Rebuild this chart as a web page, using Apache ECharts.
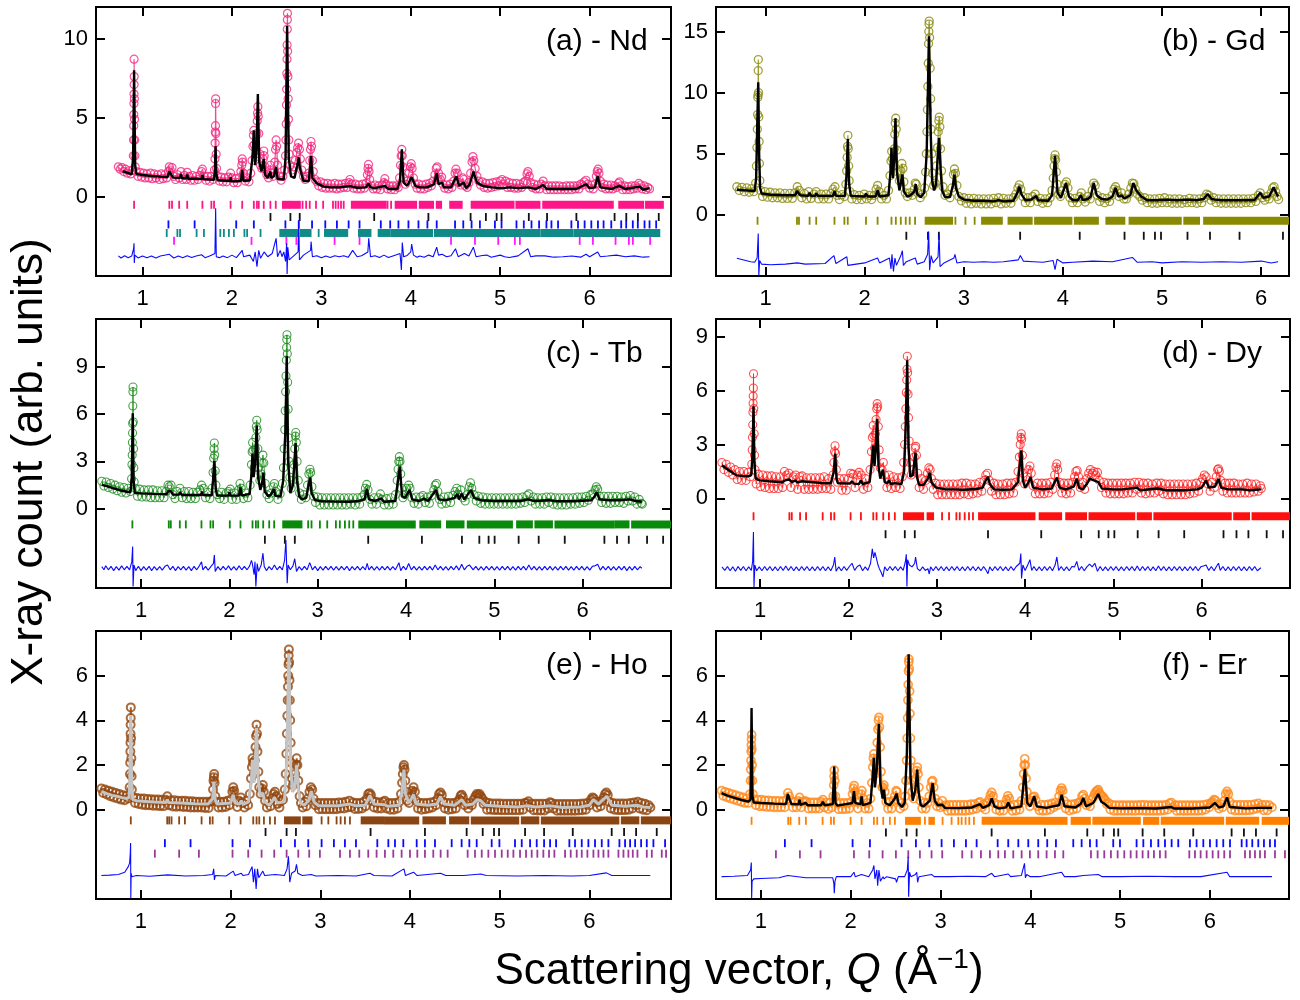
<!DOCTYPE html>
<html>
<head>
<meta charset="utf-8">
<script src="https://cdn.jsdelivr.net/npm/echarts@6/dist/echarts.min.js"></script>
<style>
html,body{margin:0;padding:0;background:#fff;}
#chart{width:1300px;height:1000px;}
</style>
</head>
<body>
<div id="chart"></div>
<script>
// ---------------- tick labels ----------------
const xTickValues = [1, 2, 3, 4, 5, 6];
const ndYTicks = [0, 5, 10];
const gdYTicks = [0, 5, 10, 15];
const tbYTicks = [0, 3, 6, 9];
const dyYTicks = [0, 3, 6, 9];
const hoYTicks = [0, 2, 4, 6];
const erYTicks = [0, 2, 4, 6];
const panelLabels = ['(a) - Nd', '(b) - Gd', '(c) - Tb', '(d) - Dy', '(e) - Ho', '(f) - Er'];

// ---------------- (a) Nd ----------------
const ndObs = [[0.73,1.9],[0.75,1.75],[0.77,1.85],[0.79,1.6],[0.81,1.75],[0.83,1.5],[0.85,1.65],[0.87,1.45],[0.89,1.7],
[0.897,2.6],[0.900,3.6],[0.902,4.5],[0.903,5.2],[0.904,5.9],[0.905,6.5],[0.906,7.1],[0.907,7.6],[0.906,8.7],[0.909,6.2],[0.911,4.9],[0.913,3.6],[0.915,2.6],[0.918,1.9],
[0.93,1.6],[0.95,1.3],[0.97,1.55],[0.99,1.25],[1.01,1.5],[1.03,1.2],[1.05,1.45],[1.07,1.2],[1.09,1.5],[1.11,1.15],[1.13,1.45],[1.15,1.2],[1.17,1.4],[1.19,1.1],[1.21,1.45],[1.23,1.15],[1.25,1.4],[1.27,1.2],[1.29,1.6],[1.30,1.9],[1.31,1.7],[1.33,1.85],[1.35,1.3],[1.37,1.1],[1.39,1.4],[1.41,1.2],[1.43,1.6],[1.45,1.1],[1.47,1.35],[1.49,1.1],[1.50,1.55],[1.52,1.3],[1.54,1.05],[1.56,1.35],[1.58,1.05],[1.60,1.3],[1.62,1.1],[1.64,1.35],[1.66,1.6],[1.67,1.75],[1.69,1.3],[1.71,1.05],[1.73,1.3],[1.75,1.0],[1.77,1.3],[1.79,1.1],
[1.805,1.7],[1.81,2.4],[1.812,3.4],[1.814,4.1],[1.816,4.5],[1.817,5.9],[1.818,6.2],[1.821,4.0],[1.824,2.7],[1.828,1.8],[1.84,1.3],[1.86,1.0],[1.88,1.25],[1.90,0.95],[1.92,1.2],[1.94,0.95],[1.96,1.25],[1.985,1.5],[2.00,1.2],[2.02,0.9],[2.04,1.15],[2.06,0.9],[2.08,1.2],[2.10,1.6],[2.11,2.0],[2.115,2.4],[2.12,2.2],[2.13,1.5],[2.15,1.0],[2.17,1.2],[2.19,0.95],
[2.21,1.5],[2.225,2.3],[2.235,3.2],[2.24,3.9],[2.245,4.2],[2.25,3.3],[2.26,2.5],[2.27,3.0],[2.278,4.0],[2.283,4.8],[2.287,5.3],[2.29,5.7],[2.294,5.1],[2.30,4.0],[2.31,2.7],[2.32,2.0],[2.335,1.8],[2.35,2.4],[2.356,2.9],[2.36,2.6],[2.37,1.9],[2.39,1.4],[2.41,1.2],[2.425,1.7],[2.43,2.0],[2.44,1.5],[2.46,1.3],[2.48,2.2],[2.488,3.0],[2.494,3.6],[2.50,3.2],[2.51,2.0],[2.53,1.3],[2.55,1.05],[2.57,1.3],[2.59,1.7],
[2.600,2.6],[2.604,3.6],[2.607,4.6],[2.61,5.8],[2.612,6.8],[2.614,7.8],[2.616,8.7],[2.617,9.6],[2.619,10.6],[2.62,11.2],[2.621,11.6],[2.623,9.2],[2.626,7.6],[2.629,6.2],[2.632,4.9],[2.636,3.6],[2.64,2.7],[2.65,2.0],[2.67,1.7],[2.69,1.9],[2.71,2.3],[2.725,2.8],[2.735,3.1],[2.745,3.4],[2.755,3.0],[2.765,2.4],[2.78,1.7],[2.80,1.3],[2.82,1.1],[2.84,1.3],[2.86,1.5],[2.87,2.3],[2.878,3.0],[2.884,3.5],[2.89,3.2],[2.90,2.3],[2.91,1.6],[2.93,1.1],[2.95,0.95],
[2.97,0.7],[2.99,0.95],[3.01,0.6],[3.03,0.85],[3.05,0.55],[3.07,0.85],[3.09,0.55],[3.11,0.8],[3.13,0.55],[3.15,0.85],[3.17,0.5],[3.19,0.8],[3.21,0.55],[3.23,0.8],[3.25,0.6],[3.27,0.85],[3.29,0.6],[3.31,0.9],[3.32,1.1],[3.34,0.8],[3.36,0.55],[3.38,0.8],[3.40,0.5],[3.42,0.75],[3.44,0.5],[3.46,0.8],[3.48,0.55],[3.50,0.85],[3.515,1.4],[3.522,1.8],[3.527,2.05],[3.533,1.6],[3.54,1.1],[3.56,0.7],[3.58,0.5],[3.60,0.75],[3.62,0.5],[3.64,0.7],[3.66,0.45],[3.68,0.75],[3.70,0.9],[3.71,1.15],[3.72,0.8],[3.74,0.5],[3.76,0.7],[3.78,0.45],[3.80,0.7],[3.82,0.45],[3.84,0.7],[3.86,0.6],
[3.875,1.2],[3.885,2.0],[3.893,2.6],[3.9,3.0],[3.905,2.6],[3.91,1.9],[3.92,1.2],[3.94,0.8],[3.96,1.0],[3.98,1.5],[3.995,1.9],[4.005,2.1],[4.015,1.8],[4.03,1.2],[4.05,0.8],[4.07,0.55],[4.09,0.8],[4.11,0.5],[4.13,0.75],[4.15,0.5],[4.17,0.8],[4.19,0.6],[4.21,0.85],[4.23,0.7],[4.25,1.0],[4.27,1.4],[4.285,1.8],[4.295,1.9],[4.31,1.5],[4.33,1.1],[4.345,1.25],[4.36,0.8],[4.38,0.55],[4.40,0.75],[4.42,0.5],[4.44,0.8],[4.46,0.6],[4.48,1.0],[4.495,1.5],[4.505,1.75],[4.52,1.5],[4.54,0.9],[4.56,0.75],[4.58,1.2],[4.595,1.1],[4.61,0.7],[4.63,0.6],[4.65,0.9],[4.67,1.5],[4.685,2.2],[4.695,2.55],[4.705,2.3],[4.72,1.8],[4.74,1.3],[4.76,1.0],[4.78,0.75],
[4.80,0.95],[4.82,0.6],[4.84,0.85],[4.86,0.55],[4.88,0.85],[4.90,0.6],[4.92,0.9],[4.94,0.65],[4.96,0.95],[4.98,0.7],[5.00,1.0],[5.02,1.1],[5.04,0.8],[5.06,1.0],[5.08,0.6],[5.10,0.9],[5.12,0.6],[5.14,0.85],[5.16,0.55],[5.18,0.85],[5.20,0.55],[5.22,0.8],[5.24,0.6],[5.26,0.9],[5.28,1.0],[5.30,1.45],[5.31,1.6],[5.325,1.3],[5.34,0.9],[5.36,0.6],[5.38,0.8],[5.40,0.5],[5.42,0.75],[5.44,0.5],[5.46,0.8],[5.48,1.0],[5.50,0.7],[5.52,0.45],[5.54,0.7],[5.56,0.45],[5.58,0.7],[5.60,0.45],[5.62,0.7],[5.64,0.45],[5.66,0.7],[5.68,0.45],[5.70,0.65],[5.72,0.45],[5.74,0.7],[5.76,0.45],[5.78,0.7],[5.80,0.45],[5.82,0.7],[5.84,0.5],[5.86,0.7],[5.88,0.5],[5.90,0.8],[5.92,0.75],[5.94,0.95],[5.96,1.05],[5.98,0.8],
[6.00,0.55],[6.02,0.75],[6.04,0.5],[6.06,0.8],[6.075,1.3],[6.085,1.6],[6.095,1.75],[6.105,1.5],[6.12,1.0],[6.14,0.6],[6.16,0.8],[6.18,0.5],[6.20,0.75],[6.22,0.5],[6.24,0.75],[6.26,0.5],[6.28,0.7],[6.30,0.6],[6.32,0.85],[6.335,0.95],[6.35,0.7],[6.37,0.45],[6.39,0.7],[6.41,0.45],[6.43,0.65],[6.45,0.45],[6.47,0.7],[6.49,0.5],[6.51,0.7],[6.53,0.55],[6.55,0.85],[6.57,0.75],[6.59,0.5],[6.61,0.7],[6.63,0.45],[6.65,0.6],[6.67,0.5]];
const ndCalc = [[0.78,1.62],[0.84,1.5],[0.88,1.42],[0.895,2.5],[0.906,8.0],[0.918,2.0],[0.93,1.45],[1.0,1.38],[1.1,1.32],[1.2,1.28],[1.28,1.25],[1.30,1.62],[1.32,1.6],[1.34,1.22],[1.42,1.2],[1.43,1.45],[1.44,1.18],[1.49,1.18],[1.50,1.42],[1.51,1.15],[1.6,1.15],[1.66,1.12],[1.67,1.4],[1.68,1.12],[1.8,1.08],[1.81,1.6],[1.817,3.2],[1.825,1.5],[1.84,1.05],[1.98,1.0],[1.985,1.25],[1.99,0.98],[2.1,1.0],[2.115,1.7],[2.13,1.0],[2.2,1.05],[2.23,2.5],[2.245,4.2],[2.26,2.0],[2.275,3.0],[2.29,6.5],[2.305,2.2],[2.33,1.6],[2.356,2.4],[2.37,1.4],[2.40,1.2],[2.43,1.6],[2.44,1.2],[2.47,1.3],[2.494,1.9],[2.51,1.15],[2.58,1.1],[2.60,2.5],[2.617,10.8],[2.635,2.5],[2.66,1.3],[2.70,1.2],[2.73,2.0],[2.747,2.5],[2.76,1.8],[2.80,1.0],[2.86,1.0],[2.885,2.6],[2.90,1.2],[2.95,0.85],[3.025,0.65],[3.1,0.6],[3.2,0.6],[3.32,0.68],[3.4,0.58],[3.5,0.6],[3.527,0.85],[3.55,0.6],[3.6,0.55],[3.71,0.7],[3.75,0.5],[3.85,0.5],[3.88,1.0],[3.90,3.0],[3.92,0.9],[3.96,0.7],[4.01,1.25],[4.05,0.7],[4.1,0.6],[4.18,0.6],[4.22,0.7],[4.26,0.8],[4.29,1.5],[4.31,0.8],[4.35,0.9],[4.37,0.6],[4.45,0.6],[4.51,1.3],[4.54,0.7],[4.59,0.9],[4.62,0.55],[4.66,0.8],[4.70,1.6],[4.74,0.9],[4.8,0.7],[4.9,0.6],[5.03,0.55],[5.1,0.6],[5.2,0.55],[5.31,0.6],[5.4,0.5],[5.48,0.75],[5.52,0.5],[5.7,0.5],[5.85,0.5],[5.96,0.8],[6.0,0.55],[6.06,0.6],[6.09,1.3],[6.12,0.6],[6.25,0.5],[6.33,0.7],[6.4,0.5],[6.56,0.65],[6.6,0.45],[6.67,0.55]];
const ndDiff = [[0.73,0.05],[0.76,-0.08],[0.8,0.06],[0.84,-0.06],[0.88,0.05],[0.9,0.5],[0.905,0.85],[0.908,-0.4],[0.915,0.1],[0.95,-0.08],[1.0,0.05],[1.05,-0.06],[1.1,0.05],[1.15,-0.08],[1.2,0.04],[1.3,0.15],[1.35,-0.08],[1.4,0.05],[1.45,-0.06],[1.5,0.06],[1.55,-0.05],[1.6,0.04],[1.66,0.12],[1.7,-0.06],[1.75,0.04],[1.81,0.2],[1.818,3.06],[1.825,0.0],[1.86,-0.06],[1.9,0.05],[1.95,-0.06],[2.0,0.1],[2.05,-0.06],[2.115,0.4],[2.13,0.0],[2.2,0.1],[2.24,-0.3],[2.26,0.3],[2.28,-0.63],[2.30,0.4],[2.32,-0.1],[2.36,0.3],[2.40,0.0],[2.45,0.2],[2.494,1.16],[2.51,0.0],[2.54,0.4],[2.56,0.0],[2.58,0.3],[2.6,-0.3],[2.612,0.85],[2.617,-1.1],[2.625,0.6],[2.64,-0.2],[2.7,0.1],[2.74,0.3],[2.747,2.3],[2.755,-0.2],[2.8,0.1],[2.88,0.4],[2.885,0.95],[2.9,0.0],[2.95,0.06],[3.0,-0.06],[3.05,0.05],[3.1,-0.05],[3.15,0.06],[3.2,0.0],[3.25,0.06],[3.3,-0.04],[3.35,0.4],[3.4,0.0],[3.45,0.06],[3.52,0.3],[3.53,1.16],[3.55,0.0],[3.6,0.06],[3.65,-0.05],[3.7,0.1],[3.75,-0.05],[3.8,0.05],[3.88,0.2],[3.895,-0.84],[3.905,0.9],[3.92,0.0],[3.96,0.08],[4.0,0.3],[4.01,0.8],[4.03,0.1],[4.07,-0.04],[4.1,0.05],[4.15,-0.04],[4.2,0.1],[4.25,0.0],[4.29,0.6],[4.31,0.1],[4.35,0.15],[4.4,0.0],[4.45,0.06],[4.5,0.5],[4.53,0.0],[4.6,0.2],[4.65,0.05],[4.7,0.6],[4.73,0.0],[4.8,0.08],[4.85,0.1],[4.9,-0.03],[5.0,0.1],[5.05,0.0],[5.1,-0.05],[5.2,0.05],[5.31,0.5],[5.34,0.0],[5.4,0.05],[5.5,0.05],[5.6,-0.03],[5.7,0.0],[5.8,0.04],[5.9,-0.03],[5.96,0.15],[6.0,0.0],[6.09,0.3],[6.12,0.0],[6.2,0.04],[6.3,0.1],[6.4,0.0],[6.5,0.05],[6.6,-0.03],[6.67,0.0]];
const ndPinkTicks = [0.906,1.30,1.33,1.41,1.50,1.67,1.77,1.80,1.985,2.115,2.245,2.28,2.30,2.356,2.43,2.49,2.79,2.83,2.87,2.94,3.02,3.13,3.16,3.19,3.22,3.25,3.74,3.78];
const ndPinkBands = [[2.57,2.64],[2.65,2.76],[3.34,3.72],[3.83,4.06],[4.10,4.25],[4.29,4.34],[4.44,4.57],[4.68,5.15],[5.18,5.44],[5.48,6.26],[6.33,6.6],[6.63,6.82]];
const ndBlackTicks = [2.431,2.654,2.758,3.591,4.197,4.669,4.84,4.96,5.015,5.32,5.524,5.852,6.279,6.41,6.54,6.773];
const ndBlueTicks = [1.29,1.583,2.048,2.245,2.598,2.747,2.896,3.044,3.174,3.305,3.427,3.665,3.77,3.862,3.974,4.086,4.186,4.29,4.495,4.587,4.68,4.773,4.941,5.015,5.182,5.264,5.35,5.435,5.517,5.573,5.647,5.796,5.87,5.944,6.019,6.093,6.156,6.242,6.353,6.409,6.483,6.539,6.614,6.67,6.744];
const ndTealTicks = [1.271,1.39,1.42,1.605,1.687,1.87,1.91,1.966,2.022,2.14,2.17,2.32,2.97];
const ndTealBands = [[2.54,2.73],[2.77,2.88],[3.04,3.29],[3.42,3.55],[3.64,3.76],[3.78,4.24],[4.27,4.44],[4.46,4.54],[4.56,5.44],[5.46,5.81],[5.83,6.78]];
const ndMagentaTicks = [1.353,2.219,2.609,2.721,3.148,3.427,4.45,4.718,4.978,5.164,5.22,5.889,6.037,6.29,6.439,6.484,6.677];

// ---------------- (b) Gd ----------------
const gdObs = [[0.71,2.3],[0.735,2.0],[0.76,2.25],[0.785,1.9],[0.81,2.2],[0.835,1.85],[0.86,2.15],[0.88,1.9],[0.90,2.6],[0.908,4.0],[0.913,5.5],[0.917,7.0],[0.92,8.2],[0.922,9.6],[0.924,9.8],[0.926,11.8],[0.927,12.7],[0.929,10.0],[0.932,8.0],[0.935,6.0],[0.938,4.2],[0.942,2.8],[0.95,2.0],[0.97,1.5],[0.995,1.9],[1.02,1.45],[1.045,1.85],[1.07,1.4],[1.095,1.8],[1.12,1.4],[1.145,1.8],[1.17,1.35],[1.195,1.75],[1.22,1.35],[1.245,1.75],[1.27,1.35],[1.295,1.8],[1.32,2.3],[1.34,2.0],[1.365,1.4],[1.39,1.75],[1.415,1.3],[1.435,1.9],[1.46,1.35],[1.49,1.7],[1.51,1.9],[1.535,1.3],[1.56,1.7],[1.585,1.3],[1.61,1.7],[1.635,1.3],[1.66,1.75],[1.68,2.1],[1.70,2.3],[1.72,1.6],[1.745,1.25],[1.77,1.65],[1.795,1.5],
[1.81,2.5],[1.818,3.6],[1.823,4.7],[1.827,5.6],[1.83,6.5],[1.834,5.4],[1.838,4.0],[1.843,2.8],[1.85,1.9],[1.87,1.3],[1.895,1.65],[1.92,1.25],[1.945,1.6],[1.97,1.25],[1.995,1.7],[2.02,1.3],[2.045,1.6],[2.07,1.25],[2.095,1.6],[2.115,2.1],[2.13,2.4],[2.145,1.9],[2.17,1.3],[2.195,1.6],[2.22,1.3],[2.24,2.0],[2.255,3.2],[2.265,4.4],[2.272,5.2],[2.28,4.6],[2.29,4.0],[2.298,5.4],[2.303,6.6],[2.308,7.5],[2.313,7.9],[2.318,7.0],[2.325,5.3],[2.335,3.5],[2.35,2.8],[2.365,3.6],[2.375,4.2],[2.385,3.8],[2.395,2.7],[2.41,1.8],[2.43,1.5],[2.455,1.8],[2.48,1.6],[2.5,2.1],[2.51,2.6],[2.52,2.5],[2.535,1.8],[2.56,1.4],[2.585,1.7],
[2.605,2.2],[2.615,3.5],[2.622,5.0],[2.628,6.8],[2.633,8.6],[2.637,10.5],[2.641,12.4],[2.644,14.0],[2.647,15.0],[2.649,15.6],[2.651,15.85],[2.655,14.5],[2.66,12.0],[2.665,9.5],[2.67,7.0],[2.676,5.0],[2.683,3.4],[2.695,2.4],[2.71,2.6],[2.725,4.0],[2.735,5.5],[2.742,6.8],[2.748,7.7],[2.752,8.0],[2.758,7.2],[2.765,5.4],[2.775,3.6],[2.79,2.3],[2.81,1.6],[2.835,1.7],[2.86,1.4],[2.88,2.2],[2.895,3.3],[2.905,3.75],[2.915,3.4],[2.93,2.4],[2.95,1.5],[2.975,1.15],
[3.0,1.4],[3.025,0.95],[3.05,1.35],[3.075,0.9],[3.10,1.35],[3.125,0.95],[3.15,1.3],[3.175,0.9],[3.20,1.3],[3.225,0.9],[3.25,1.3],[3.275,0.9],[3.30,1.35],[3.325,1.0],[3.35,1.4],[3.375,0.9],[3.40,1.35],[3.425,0.95],[3.45,1.3],[3.475,0.95],[3.50,1.4],[3.525,1.7],[3.545,2.2],[3.56,2.45],[3.575,2.1],[3.595,1.5],[3.62,1.0],[3.645,1.4],[3.67,1.0],[3.695,1.5],[3.72,1.7],[3.745,1.1],[3.77,1.35],[3.795,0.95],[3.82,1.3],[3.845,1.0],[3.87,1.4],[3.89,2.0],[3.902,3.0],[3.91,4.0],[3.915,4.6],[3.92,4.9],[3.926,4.5],[3.933,3.5],[3.942,2.5],[3.955,1.7],[3.975,1.5],
[4.0,2.0],[4.02,2.5],[4.035,2.7],[4.05,2.2],[4.07,1.4],[4.095,1.0],[4.12,1.35],[4.145,1.0],[4.17,1.5],[4.185,1.8],[4.2,1.3],[4.225,1.05],[4.25,1.5],[4.275,1.3],[4.295,2.0],[4.31,2.6],[4.325,2.4],[4.345,1.6],[4.37,1.1],[4.395,1.4],[4.42,1.0],[4.445,1.35],[4.47,1.1],[4.495,1.6],[4.515,2.1],[4.53,2.3],[4.545,2.0],[4.565,1.5],[4.59,1.8],[4.615,1.3],[4.64,1.3],[4.665,1.7],[4.685,2.2],[4.70,2.6],[4.715,2.55],[4.73,2.1],[4.75,1.7],[4.775,1.5],[4.80,1.2],[4.825,1.4],[4.85,1.0],[4.875,1.3],[4.90,0.95],[4.925,1.3],[4.95,0.95],[4.975,1.35],
[5.0,1.0],[5.025,1.4],[5.05,1.0],[5.075,1.3],[5.10,0.95],[5.125,1.3],[5.15,0.95],[5.175,1.3],[5.20,0.95],[5.225,1.25],[5.25,1.0],[5.275,1.35],[5.30,1.0],[5.325,1.3],[5.35,0.95],[5.375,1.3],[5.40,1.0],[5.425,1.4],[5.45,1.7],[5.47,1.6],[5.495,1.2],[5.52,1.4],[5.545,1.0],[5.57,1.3],[5.595,0.95],[5.62,1.3],[5.645,0.95],[5.67,1.3],[5.695,0.95],[5.72,1.3],[5.745,0.95],[5.77,1.3],[5.795,0.95],[5.82,1.3],[5.845,1.0],[5.87,1.3],[5.895,1.0],[5.92,1.35],[5.945,1.1],[5.97,1.6],[5.99,1.8],[6.01,1.4],[6.035,1.2],[6.06,1.5],[6.08,1.3],[6.10,1.8],[6.115,2.2],[6.13,2.3],[6.145,1.9],[6.16,1.5],[6.175,1.25]];
const gdCalc = [[0.71,2.05],[0.8,2.0],[0.89,1.95],[0.905,3.0],[0.915,7.0],[0.926,10.85],[0.935,5.0],[0.945,2.2],[0.96,1.75],[1.05,1.65],[1.2,1.6],[1.3,1.6],[1.317,1.95],[1.337,1.9],[1.35,1.6],[1.43,1.55],[1.444,1.8],[1.46,1.55],[1.5,1.55],[1.511,1.75],[1.53,1.55],[1.68,1.55],[1.695,1.95],[1.71,1.55],[1.80,1.55],[1.815,3.0],[1.83,6.2],[1.843,2.5],[1.86,1.55],[2.0,1.5],[2.013,1.75],[2.03,1.5],[2.11,1.5],[2.13,2.0],[2.15,1.5],[2.24,1.6],[2.26,3.5],[2.27,5.47],[2.285,3.0],[2.297,4.5],[2.31,7.9],[2.325,3.5],[2.35,2.0],[2.365,2.6],[2.38,3.3],[2.395,1.9],[2.43,1.5],[2.46,1.6],[2.50,1.9],[2.515,2.5],[2.53,1.7],[2.565,1.45],[2.60,1.8],[2.625,5.0],[2.648,14.6],[2.665,7.0],[2.68,2.8],[2.70,2.0],[2.72,2.5],[2.735,4.5],[2.75,6.3],[2.765,3.8],[2.78,2.0],[2.81,1.45],[2.86,1.45],[2.89,2.4],[2.906,3.3],[2.92,2.2],[2.95,1.5],[3.0,1.25],[3.1,1.15],[3.2,1.15],[3.3,1.1],[3.35,1.2],[3.4,1.1],[3.5,1.15],[3.54,1.8],[3.56,2.3],[3.58,1.7],[3.62,1.2],[3.68,1.25],[3.73,1.55],[3.75,1.2],[3.85,1.15],[3.89,1.6],[3.92,4.83],[3.945,1.8],[3.98,1.4],[4.03,2.6],[4.06,1.5],[4.1,1.2],[4.15,1.2],[4.18,1.6],[4.2,1.2],[4.25,1.3],[4.28,1.5],[4.31,2.6],[4.34,1.6],[4.39,1.3],[4.45,1.25],[4.5,1.5],[4.53,2.2],[4.56,1.5],[4.59,1.6],[4.62,1.35],[4.68,1.6],[4.71,2.6],[4.74,2.0],[4.79,1.5],[4.85,1.2],[4.95,1.2],[5.05,1.25],[5.15,1.2],[5.25,1.25],[5.35,1.2],[5.42,1.3],[5.46,1.7],[5.5,1.3],[5.53,1.25],[5.6,1.2],[5.75,1.2],[5.93,1.2],[5.99,1.8],[6.02,1.4],[6.08,1.5],[6.125,2.25],[6.15,1.8],[6.17,1.5]];
const gdDiff = [[0.71,0.28],[0.75,0.2],[0.8,0.1],[0.85,0.0],[0.89,-0.05],[0.915,0.3],[0.926,2.3],[0.932,-1.15],[0.94,0.1],[0.96,-0.2],[1.05,-0.25],[1.2,-0.2],[1.32,-0.1],[1.4,-0.2],[1.6,-0.15],[1.69,0.5],[1.71,-0.15],[1.82,0.4],[1.83,-0.3],[1.84,-0.15],[2.0,-0.1],[2.13,0.3],[2.15,-0.1],[2.25,0.3],[2.265,-0.6],[2.275,0.6],[2.29,-0.8],[2.305,0.3],[2.32,-0.3],[2.365,0.5],[2.38,0.9],[2.39,-0.3],[2.42,0.0],[2.51,0.3],[2.53,-0.2],[2.6,0.0],[2.635,0.6],[2.645,2.46],[2.655,-0.7],[2.67,0.5],[2.69,-0.1],[2.74,0.4],[2.75,2.3],[2.76,-0.4],[2.8,-0.1],[2.9,0.3],[2.91,0.6],[2.93,-0.1],[3.0,0.0],[3.1,-0.05],[3.2,0.0],[3.3,-0.05],[3.4,0.0],[3.55,0.15],[3.57,0.5],[3.6,0.05],[3.7,0.0],[3.8,-0.05],[3.9,0.1],[3.92,-0.65],[3.94,0.2],[4.0,-0.1],[4.1,-0.05],[4.3,0.05],[4.5,0.0],[4.7,0.35],[4.75,-0.05],[4.9,0.0],[5.0,-0.1],[5.2,0.0],[5.4,-0.05],[5.6,0.0],[5.8,-0.05],[6.0,0.05],[6.1,-0.1],[6.17,0.0]];
const gdOliveTicks = [0.919,1.317,1.337,1.444,1.511,1.695,1.795,1.829,2.013,2.13,2.27,2.314,2.364,2.414,2.454,2.508,2.915,3.016,3.109];
const gdOliveBands = [[2.614,2.882],[3.183,3.384],[3.45,3.685],[3.718,4.086],[4.119,4.353],[4.437,4.62],[4.671,5.189],[5.223,5.373],[5.423,6.28]];
const gdBlackTicks = [2.42,2.638,2.748,3.568,4.169,4.621,4.815,4.928,4.989,5.256,5.483,5.781,6.219];

// ---------------- (c) Tb ----------------
const tbObs = [[0.555,1.75],[0.58,1.45],[0.605,1.7],[0.63,1.35],[0.655,1.6],[0.68,1.25],[0.705,1.5],[0.73,1.15],[0.755,1.4],[0.78,1.05],[0.805,1.35],[0.83,1.0],[0.855,1.3],[0.88,1.1],[0.893,1.9],[0.897,2.8],[0.9,3.4],[0.902,4.2],[0.904,4.8],[0.905,5.4],[0.907,6.5],[0.908,7.4],[0.909,7.7],[0.912,5.5],[0.915,3.8],[0.918,2.6],[0.922,1.7],[0.935,1.3],[0.96,0.8],[0.985,1.25],[1.01,0.75],[1.035,1.2],[1.06,0.75],[1.085,1.2],[1.11,0.7],[1.135,1.2],[1.16,0.7],[1.185,1.15],[1.21,0.7],[1.235,1.15],[1.26,0.7],[1.285,1.1],[1.305,1.5],[1.32,1.4],[1.34,1.5],[1.36,0.9],[1.385,0.65],[1.41,1.1],[1.44,1.3],[1.465,0.7],[1.49,1.1],[1.515,0.65],[1.54,1.1],[1.565,0.65],[1.59,1.05],[1.615,0.65],[1.64,1.05],[1.665,1.2],[1.685,1.5],[1.705,1.3],[1.73,0.7],[1.755,1.05],[1.78,0.65],
[1.805,1.3],[1.815,2.3],[1.822,3.2],[1.827,3.8],[1.83,4.16],[1.834,3.4],[1.84,2.4],[1.848,1.5],[1.865,0.9],[1.89,0.65],[1.915,1.05],[1.94,0.6],[1.965,1.0],[1.99,1.1],[2.01,1.25],[2.03,0.6],[2.055,1.0],[2.08,0.6],[2.105,1.2],[2.12,1.6],[2.135,1.3],[2.16,0.65],[2.185,1.0],[2.21,0.7],[2.235,1.5],[2.25,2.8],[2.258,3.6],[2.263,4.2],[2.268,3.7],[2.28,2.6],[2.293,3.8],[2.3,4.5],[2.305,5.2],[2.31,5.6],[2.315,5.0],[2.322,3.8],[2.33,2.6],[2.345,1.8],[2.36,2.2],[2.372,2.9],[2.38,3.4],[2.39,2.9],[2.405,1.6],[2.425,0.9],[2.45,0.65],[2.475,1.0],[2.5,1.4],[2.51,1.6],[2.525,1.1],[2.55,0.6],[2.575,0.95],
[2.6,1.6],[2.612,2.6],[2.62,3.8],[2.627,5.0],[2.632,6.2],[2.637,7.4],[2.641,8.4],[2.645,9.4],[2.648,10.2],[2.65,10.7],[2.652,11.0],[2.656,9.8],[2.66,8.0],[2.665,6.3],[2.67,4.5],[2.677,3.0],[2.685,2.0],[2.7,1.3],[2.715,1.8],[2.73,2.8],[2.74,3.8],[2.748,4.6],[2.752,4.83],[2.758,4.2],[2.767,3.0],[2.78,1.8],[2.795,1.0],[2.815,0.6],[2.84,0.9],[2.865,0.7],[2.885,1.5],[2.9,2.2],[2.912,2.5],[2.92,2.3],[2.935,1.4],[2.955,0.8],[2.975,0.4],
[3.0,0.75],[3.025,0.25],[3.05,0.7],[3.075,0.25],[3.1,0.7],[3.125,0.25],[3.15,0.7],[3.175,0.25],[3.2,0.7],[3.225,0.25],[3.25,0.7],[3.275,0.25],[3.3,0.7],[3.325,0.25],[3.35,0.7],[3.375,0.3],[3.4,0.7],[3.425,0.25],[3.45,0.7],[3.475,0.3],[3.5,0.75],[3.525,0.9],[3.54,1.3],[3.555,1.55],[3.57,1.2],[3.59,0.6],[3.615,0.3],[3.64,0.7],[3.665,0.3],[3.69,0.7],[3.71,0.95],[3.73,0.6],[3.755,0.25],[3.78,0.65],[3.805,0.25],[3.83,0.7],[3.855,0.3],[3.88,0.9],[3.9,1.8],[3.91,2.5],[3.918,3.0],[3.925,3.3],[3.932,3.0],[3.94,2.2],[3.95,1.3],[3.965,0.7],[3.985,0.9],
[4.01,1.3],[4.03,1.5],[4.045,1.3],[4.065,0.7],[4.09,0.35],[4.115,0.75],[4.14,0.3],[4.165,0.75],[4.19,0.85],[4.215,0.4],[4.24,0.75],[4.265,0.35],[4.29,0.85],[4.315,1.2],[4.33,1.5],[4.345,1.6],[4.36,1.1],[4.38,0.6],[4.405,0.3],[4.43,0.75],[4.455,0.35],[4.48,0.8],[4.505,0.4],[4.53,0.85],[4.555,1.1],[4.575,1.3],[4.595,0.9],[4.62,1.2],[4.645,0.7],[4.67,0.5],[4.695,0.9],[4.715,1.4],[4.73,1.65],[4.745,1.3],[4.77,0.9],[4.795,0.5],[4.82,0.8],[4.845,0.35],[4.87,0.75],[4.895,0.3],[4.92,0.7],[4.945,0.3],[4.97,0.7],[4.995,0.3],
[5.02,0.7],[5.045,0.3],[5.07,0.7],[5.095,0.3],[5.12,0.7],[5.145,0.3],[5.17,0.7],[5.195,0.3],[5.22,0.7],[5.245,0.3],[5.27,0.7],[5.295,0.35],[5.32,0.75],[5.345,0.4],[5.37,0.85],[5.39,0.95],[5.415,0.5],[5.44,0.75],[5.465,0.3],[5.49,0.7],[5.515,0.3],[5.54,0.7],[5.565,0.3],[5.59,0.75],[5.615,0.4],[5.64,0.75],[5.665,0.3],[5.69,0.7],[5.715,0.25],[5.74,0.7],[5.765,0.25],[5.79,0.7],[5.815,0.25],[5.84,0.7],[5.865,0.3],[5.89,0.7],[5.915,0.3],[5.94,0.75],[5.965,0.35],[5.99,0.75],
[6.015,0.4],[6.04,0.8],[6.065,0.55],[6.09,0.9],[6.115,0.95],[6.14,1.2],[6.155,1.4],[6.17,1.25],[6.19,0.8],[6.215,0.4],[6.24,0.8],[6.265,0.35],[6.29,0.8],[6.315,0.35],[6.34,0.8],[6.365,0.4],[6.39,0.8],[6.415,0.4],[6.44,0.75],[6.465,0.35],[6.49,0.8],[6.515,0.5],[6.54,0.85],[6.565,0.5],[6.59,0.75],[6.615,0.3],[6.64,0.6],[6.665,0.35],[6.675,0.3]];
const tbCalc = [[0.555,1.52],[0.62,1.42],[0.69,1.3],[0.76,1.18],[0.84,1.08],[0.88,1.05],[0.895,2.0],[0.906,6.05],[0.915,1.8],[0.93,1.0],[1.0,0.98],[1.15,0.95],[1.29,0.93],[1.31,1.15],[1.34,1.1],[1.36,0.9],[1.43,0.9],[1.44,1.05],[1.46,0.88],[1.6,0.88],[1.68,0.87],[1.69,1.1],[1.70,0.87],[1.8,0.86],[1.815,1.8],[1.83,3.04],[1.845,1.3],[1.86,0.85],[1.99,0.84],[2.0,1.05],[2.01,0.84],[2.11,0.84],[2.125,1.35],[2.14,0.84],[2.23,0.95],[2.25,2.2],[2.262,3.5],[2.275,2.0],[2.29,2.8],[2.31,5.27],[2.325,2.0],[2.35,1.2],[2.37,1.6],[2.385,2.3],[2.40,1.1],[2.44,0.8],[2.47,0.9],[2.505,1.25],[2.52,0.82],[2.58,0.8],[2.61,1.8],[2.635,5.0],[2.65,9.64],[2.665,3.0],[2.69,1.0],[2.72,1.5],[2.75,4.16],[2.765,1.8],[2.79,0.8],[2.82,0.6],[2.87,0.7],[2.90,1.6],[2.915,1.98],[2.93,1.0],[2.97,0.55],[3.05,0.48],[3.2,0.46],[3.35,0.45],[3.45,0.48],[3.53,0.6],[3.557,1.26],[3.58,0.6],[3.65,0.5],[3.72,0.65],[3.75,0.45],[3.88,0.5],[3.93,2.68],[3.955,0.8],[3.99,0.7],[4.04,1.2],[4.07,0.6],[4.15,0.5],[4.2,0.65],[4.25,0.5],[4.34,1.2],[4.37,0.6],[4.45,0.55],[4.55,0.7],[4.58,0.95],[4.6,0.6],[4.63,0.95],[4.66,0.6],[4.735,1.2],[4.77,0.7],[4.85,0.55],[5.0,0.5],[5.15,0.5],[5.3,0.5],[5.38,0.6],[5.45,0.5],[5.62,0.55],[5.7,0.48],[5.9,0.48],[6.1,0.55],[6.13,0.75],[6.16,1.06],[6.19,0.6],[6.3,0.55],[6.4,0.55],[6.53,0.6],[6.6,0.5],[6.67,0.45]];
const tbDiff = [[0.555,0.1],[0.58,-0.1],[0.6,0.15],[0.63,-0.1],[0.66,0.12],[0.69,-0.15],[0.72,0.1],[0.75,-0.12],[0.78,0.15],[0.81,-0.1],[0.84,0.12],[0.87,-0.1],[0.895,0.4],[0.905,1.37],[0.91,-1.16],[0.92,0.2],[0.94,-0.15],[0.97,0.12],[1.0,-0.15],[1.03,0.1],[1.06,-0.12],[1.09,0.12],[1.12,-0.15],[1.15,0.1],[1.18,-0.12],[1.21,0.1],[1.24,-0.12],[1.27,0.12],[1.3,0.2],[1.33,-0.1],[1.36,0.12],[1.39,-0.15],[1.42,0.1],[1.45,-0.1],[1.48,0.12],[1.51,-0.12],[1.54,0.1],[1.57,-0.15],[1.6,0.12],[1.63,-0.1],[1.66,0.15],[1.685,0.4],[1.7,-0.1],[1.73,0.12],[1.76,-0.12],[1.79,0.1],[1.82,0.3],[1.83,0.84],[1.84,-0.2],[1.87,0.1],[1.9,-0.12],[1.93,0.12],[1.96,-0.1],[1.99,0.15],[2.02,-0.12],[2.05,0.1],[2.08,-0.12],[2.11,0.15],[2.14,-0.1],[2.17,0.12],[2.2,-0.1],[2.23,0.15],[2.25,0.5],[2.26,0.3],[2.28,-0.4],[2.29,0.4],[2.3,-1.16],[2.315,0.3],[2.33,-0.2],[2.36,0.2],[2.38,0.95],[2.395,0.1],[2.42,-0.15],[2.45,0.1],[2.48,-0.1],[2.51,0.2],[2.54,-0.1],[2.57,0.12],[2.6,-0.1],[2.625,0.5],[2.64,1.79],[2.648,0.3],[2.655,-0.95],[2.665,0.2],[2.69,-0.1],[2.72,0.15],[2.74,0.6],[2.76,-0.2],[2.79,0.1],[2.82,-0.12],[2.85,0.12],[2.88,-0.1],[2.91,0.35],[2.94,-0.1],[2.97,0.12],[3.0,-0.15],[3.03,0.1],[3.06,-0.12],[3.09,0.12],[3.12,-0.1],[3.15,0.12],[3.18,-0.12],[3.21,0.1],[3.24,-0.12],[3.27,0.12],[3.3,-0.1],[3.33,0.12],[3.36,-0.15],[3.39,0.1],[3.42,-0.1],[3.45,0.12],[3.48,-0.12],[3.51,0.1],[3.54,-0.1],[3.56,0.3],[3.58,-0.1],[3.61,0.12],[3.64,-0.12],[3.67,0.1],[3.7,-0.12],[3.73,0.12],[3.76,-0.1],[3.79,0.12],[3.82,-0.12],[3.85,0.1],[3.88,-0.1],[3.92,0.35],[3.94,-0.15],[3.97,0.12],[4.0,-0.1],[4.03,0.3],[4.06,-0.1],[4.09,0.12],[4.12,-0.12],[4.15,0.1],[4.18,-0.12],[4.21,0.12],[4.24,-0.1],[4.27,0.12],[4.3,-0.12],[4.33,0.2],[4.36,-0.1],[4.39,0.12],[4.42,-0.12],[4.45,0.1],[4.48,-0.12],[4.51,0.12],[4.54,-0.1],[4.57,0.15],[4.6,-0.12],[4.63,0.25],[4.66,-0.1],[4.69,0.12],[4.72,0.2],[4.74,0.3],[4.76,-0.1],[4.79,0.12],[4.82,-0.12],[4.85,0.1],[4.88,-0.12],[4.91,0.12],[4.94,-0.1],[4.97,0.12],[5.0,-0.12],[5.03,0.1],[5.06,-0.12],[5.09,0.12],[5.12,-0.1],[5.15,0.12],[5.18,-0.12],[5.21,0.1],[5.24,-0.12],[5.27,0.12],[5.3,-0.1],[5.33,0.12],[5.36,-0.12],[5.39,0.2],[5.42,-0.1],[5.45,0.12],[5.48,-0.12],[5.51,0.1],[5.54,-0.12],[5.57,0.12],[5.6,-0.1],[5.63,0.12],[5.66,-0.12],[5.69,0.1],[5.72,-0.12],[5.75,0.12],[5.78,-0.1],[5.81,0.12],[5.84,-0.12],[5.87,0.1],[5.9,-0.12],[5.93,0.12],[5.96,-0.1],[5.99,0.12],[6.02,-0.12],[6.05,0.1],[6.08,-0.12],[6.11,0.12],[6.14,0.15],[6.17,0.25],[6.2,-0.12],[6.23,0.12],[6.26,-0.1],[6.29,0.12],[6.32,-0.12],[6.35,0.1],[6.38,-0.12],[6.41,0.12],[6.44,-0.1],[6.47,0.12],[6.5,-0.15],[6.53,0.1],[6.56,-0.12],[6.59,0.12],[6.62,-0.1],[6.65,0.1],[6.67,0.0]];
const tbGreenTicks = [0.902,1.314,1.337,1.439,1.507,1.684,1.786,1.816,2.005,2.126,2.262,2.3,2.326,2.383,2.451,2.507,2.892,2.93,3.025,3.108,3.206,3.251,3.308,3.357,3.403];
const tbGreenBands = [[2.609,2.817],[3.47,4.1],[4.161,4.388],[4.463,4.652],[4.698,5.2],[5.257,5.426],[5.464,5.653],[5.691,6.352],[6.37,6.52],[6.559,7.0]];
const tbBlackTicks = [2.402,2.628,2.741,3.572,4.18,4.633,4.83,4.935,5.003,5.275,5.502,5.797,6.246,6.389,6.522,6.729,6.911];

// ---------------- (d) Dy ----------------
const dyObs = [[0.567,2.0],[0.59,1.6],[0.615,1.9],[0.64,1.45],[0.665,1.75],[0.69,1.3],[0.715,1.6],[0.74,1.05],[0.765,1.5],[0.79,1.0],[0.815,1.5],[0.84,1.0],[0.865,1.45],[0.89,1.2],[0.905,1.9],[0.91,2.7],[0.913,3.4],[0.916,4.1],[0.918,4.8],[0.92,5.3],[0.921,5.7],[0.923,6.15],[0.925,6.95],[0.928,5.0],[0.932,3.6],[0.936,2.4],[0.942,1.6],[0.955,0.8],[0.98,1.35],[1.005,0.65],[1.03,1.3],[1.055,0.6],[1.08,1.25],[1.105,0.55],[1.13,1.25],[1.155,0.55],[1.18,1.2],[1.205,0.55],[1.23,1.2],[1.255,0.6],[1.275,1.5],[1.3,1.3],[1.325,1.4],[1.35,0.6],[1.375,1.2],[1.4,1.3],[1.425,0.5],[1.45,1.2],[1.475,1.25],[1.5,0.5],[1.525,1.15],[1.55,0.5],[1.575,1.15],[1.6,0.5],[1.625,1.15],[1.65,0.5],[1.675,1.15],[1.7,0.55],[1.725,1.2],[1.75,0.55],[1.775,1.1],[1.8,0.5],
[1.825,1.3],[1.835,2.0],[1.842,2.6],[1.848,2.93],[1.855,2.5],[1.863,1.6],[1.875,0.9],[1.9,1.1],[1.925,0.45],[1.95,1.1],[1.975,0.45],[2.0,1.1],[2.025,1.4],[2.05,1.35],[2.075,0.6],[2.1,1.3],[2.12,1.45],[2.145,1.3],[2.17,0.5],[2.195,1.1],[2.22,0.6],[2.245,1.6],[2.26,2.6],[2.27,3.4],[2.28,4.07],[2.287,3.5],[2.295,2.8],[2.305,3.6],[2.313,4.4],[2.32,5.0],[2.325,5.28],[2.33,5.1],[2.338,4.0],[2.348,2.7],[2.36,1.7],[2.38,1.6],[2.395,2.0],[2.41,1.3],[2.435,0.6],[2.46,1.3],[2.485,0.55],[2.51,1.2],[2.535,0.6],[2.56,1.15],[2.585,0.55],[2.61,1.2],
[2.625,2.0],[2.635,3.0],[2.643,4.0],[2.65,5.0],[2.655,5.9],[2.66,6.6],[2.663,7.2],[2.666,7.92],[2.67,7.0],[2.675,5.8],[2.68,4.5],[2.687,3.2],[2.695,2.0],[2.71,1.3],[2.73,1.6],[2.745,2.3],[2.755,2.8],[2.762,2.9],[2.77,2.4],[2.785,1.4],[2.8,0.6],[2.825,1.1],[2.85,0.5],[2.875,1.0],[2.895,1.4],[2.91,1.7],[2.925,1.6],[2.94,1.1],[2.96,0.5],[2.985,0.85],
[3.01,0.2],[3.035,0.8],[3.06,0.2],[3.085,0.8],[3.11,0.2],[3.135,0.8],[3.16,0.2],[3.185,0.8],[3.21,0.2],[3.235,0.8],[3.26,0.2],[3.285,0.85],[3.31,0.25],[3.335,0.85],[3.36,0.2],[3.385,0.8],[3.41,0.25],[3.435,0.8],[3.46,0.3],[3.485,0.9],[3.51,0.4],[3.535,1.0],[3.555,1.3],[3.575,1.4],[3.595,1.0],[3.62,0.4],[3.645,0.85],[3.67,0.2],[3.695,0.8],[3.72,0.2],[3.745,0.8],[3.77,0.2],[3.795,0.85],[3.82,0.25],[3.845,0.85],[3.87,0.3],[3.895,0.9],[3.92,1.5],[3.935,2.3],[3.945,3.0],[3.952,3.4],[3.957,3.6],[3.962,3.3],[3.97,2.4],[3.98,1.4],[3.995,0.8],
[4.02,1.2],[4.04,1.6],[4.055,1.8],[4.07,1.4],[4.09,0.7],[4.115,0.25],[4.14,0.85],[4.165,0.25],[4.19,0.85],[4.215,0.25],[4.24,0.85],[4.265,0.3],[4.29,0.9],[4.315,0.5],[4.335,1.3],[4.35,1.75],[4.36,1.93],[4.37,1.6],[4.39,0.9],[4.415,0.3],[4.44,0.85],[4.465,0.25],[4.49,0.85],[4.515,0.3],[4.54,0.9],[4.56,1.2],[4.575,1.5],[4.59,1.55],[4.605,1.2],[4.625,0.6],[4.65,0.9],[4.675,0.5],[4.7,1.1],[4.72,1.4],[4.74,1.6],[4.76,1.4],[4.78,1.5],[4.8,1.3],[4.82,1.45],[4.84,1.0],[4.865,0.6],[4.89,0.9],[4.915,0.3],[4.94,0.85],[4.965,0.25],[4.99,0.85],
[5.015,0.25],[5.04,0.85],[5.065,0.25],[5.09,0.85],[5.115,0.25],[5.14,0.85],[5.165,0.3],[5.19,0.85],[5.215,0.3],[5.24,0.9],[5.265,0.5],[5.29,0.9],[5.315,0.3],[5.34,0.85],[5.365,0.25],[5.39,0.85],[5.415,0.3],[5.44,0.8],[5.465,0.3],[5.49,0.85],[5.515,0.4],[5.54,0.85],[5.565,0.25],[5.59,0.8],[5.615,0.2],[5.64,0.8],[5.665,0.2],[5.69,0.8],[5.715,0.2],[5.74,0.8],[5.765,0.2],[5.79,0.8],[5.815,0.2],[5.84,0.8],[5.865,0.25],[5.89,0.8],[5.915,0.3],[5.94,0.85],[5.965,0.4],[5.99,0.9],
[6.01,1.1],[6.03,1.3],[6.05,1.2],[6.07,0.8],[6.095,0.4],[6.12,0.9],[6.145,0.6],[6.165,1.2],[6.18,1.6],[6.19,1.65],[6.2,1.5],[6.215,1.0],[6.24,0.4],[6.265,0.85],[6.29,0.3],[6.315,0.85],[6.34,0.3],[6.365,0.85],[6.39,0.3],[6.415,0.8],[6.44,0.3],[6.465,0.8],[6.49,0.3],[6.515,0.85],[6.54,0.3],[6.565,0.8],[6.59,0.35],[6.615,0.8],[6.64,0.4],[6.665,0.7],[6.675,0.55]];
const dyCalc = [[0.567,1.84],[0.62,1.65],[0.68,1.45],[0.73,1.28],[0.8,1.25],[0.86,1.23],[0.90,1.3],[0.913,2.5],[0.925,5.13],[0.935,2.0],[0.95,1.1],[1.0,1.0],[1.1,0.95],[1.25,0.9],[1.28,1.0],[1.33,1.05],[1.36,0.9],[1.40,1.0],[1.42,0.88],[1.47,0.95],[1.49,0.86],[1.7,0.85],[1.8,0.84],[1.835,1.5],[1.85,2.49],[1.865,1.1],[1.88,0.84],[2.02,0.82],[2.04,0.95],[2.06,0.82],[2.12,0.8],[2.14,1.0],[2.16,0.8],[2.24,0.9],[2.265,2.0],[2.28,2.96],[2.295,1.8],[2.31,2.8],[2.325,4.44],[2.34,1.8],[2.36,1.1],[2.39,1.6],[2.41,0.9],[2.44,0.85],[2.46,1.0],[2.48,0.8],[2.52,0.85],[2.54,0.78],[2.6,0.8],[2.63,1.5],[2.648,4.0],[2.665,7.7],[2.68,2.8],[2.70,1.2],[2.73,1.3],[2.75,2.2],[2.76,2.54],[2.775,1.2],[2.8,0.75],[2.85,0.75],[2.9,1.1],[2.92,1.43],[2.94,0.9],[2.99,0.6],[3.1,0.5],[3.2,0.5],[3.3,0.48],[3.45,0.52],[3.52,0.6],[3.555,1.0],[3.58,1.2],[3.6,0.8],[3.65,0.5],[3.75,0.48],[3.85,0.5],[3.92,0.9],[3.957,2.68],[3.975,1.0],[4.0,0.6],[4.04,0.9],[4.06,1.2],[4.09,0.6],[4.2,0.5],[4.3,0.55],[4.36,1.16],[4.39,0.6],[4.46,0.5],[4.55,0.65],[4.585,1.1],[4.61,0.6],[4.65,0.5],[4.7,0.8],[4.73,1.1],[4.78,1.0],[4.83,0.9],[4.87,0.55],[5.0,0.5],[5.1,0.5],[5.27,0.6],[5.3,0.45],[5.5,0.55],[5.6,0.45],[5.8,0.45],[5.95,0.5],[6.0,0.6],[6.05,1.0],[6.08,0.6],[6.15,0.65],[6.19,1.08],[6.22,0.6],[6.3,0.5],[6.45,0.5],[6.55,0.45],[6.67,0.5]];
const dyDiff = [[0.567,0.1],[0.6,-0.1],[0.63,0.12],[0.66,-0.12],[0.69,0.1],[0.72,-0.15],[0.75,0.12],[0.78,-0.1],[0.81,0.12],[0.84,-0.12],[0.87,0.1],[0.9,-0.1],[0.915,0.4],[0.924,2.04],[0.93,-1.03],[0.94,0.2],[0.96,-0.12],[0.99,0.1],[1.02,-0.12],[1.05,0.12],[1.08,-0.1],[1.11,0.12],[1.14,-0.12],[1.17,0.1],[1.2,-0.12],[1.23,0.12],[1.26,-0.1],[1.29,0.15],[1.32,-0.1],[1.35,0.12],[1.38,-0.12],[1.41,0.1],[1.44,-0.12],[1.47,0.12],[1.5,-0.1],[1.53,0.12],[1.56,-0.12],[1.59,0.1],[1.62,-0.12],[1.65,0.12],[1.68,-0.1],[1.71,0.12],[1.74,-0.12],[1.77,0.1],[1.8,-0.12],[1.83,0.2],[1.845,0.65],[1.86,-0.15],[1.89,0.1],[1.92,-0.12],[1.95,0.12],[1.98,-0.1],[2.01,0.12],[2.04,0.3],[2.07,-0.1],[2.1,0.12],[2.13,0.2],[2.16,-0.12],[2.19,0.1],[2.22,-0.1],[2.25,0.3],[2.27,1.1],[2.285,0.6],[2.3,0.9],[2.32,0.5],[2.335,0.2],[2.35,0.0],[2.37,-0.2],[2.39,-0.46],[2.41,0.1],[2.44,-0.12],[2.47,0.12],[2.5,-0.1],[2.53,0.12],[2.56,-0.12],[2.59,0.1],[2.62,-0.1],[2.645,0.4],[2.655,0.8],[2.662,-1.0],[2.67,0.5],[2.69,0.2],[2.72,0.1],[2.75,0.3],[2.76,0.65],[2.78,0.0],[2.81,-0.12],[2.84,0.1],[2.87,-0.1],[2.9,0.0],[2.915,-0.3],[2.93,0.1],[2.96,-0.12],[2.99,0.12],[3.02,-0.1],[3.05,0.12],[3.08,-0.12],[3.11,0.1],[3.14,-0.12],[3.17,0.12],[3.2,-0.1],[3.23,0.12],[3.26,-0.12],[3.29,0.1],[3.32,-0.12],[3.35,0.12],[3.38,-0.1],[3.41,0.12],[3.44,-0.12],[3.47,0.1],[3.5,-0.12],[3.53,0.12],[3.56,-0.1],[3.58,-0.28],[3.6,0.1],[3.63,-0.12],[3.66,0.12],[3.69,-0.1],[3.72,0.12],[3.75,-0.12],[3.78,0.1],[3.81,-0.12],[3.84,0.12],[3.87,-0.1],[3.9,0.12],[3.94,0.3],[3.952,0.84],[3.96,-0.55],[3.975,0.2],[4.0,-0.1],[4.03,0.2],[4.055,0.5],[4.075,-0.1],[4.1,0.12],[4.13,-0.12],[4.16,0.1],[4.19,-0.12],[4.22,0.12],[4.25,-0.1],[4.28,0.12],[4.31,-0.12],[4.34,0.2],[4.36,0.65],[4.38,-0.1],[4.41,0.12],[4.44,-0.12],[4.47,0.1],[4.5,-0.12],[4.53,0.12],[4.56,0.1],[4.585,0.4],[4.61,-0.1],[4.64,0.12],[4.67,-0.12],[4.7,0.1],[4.73,0.25],[4.76,0.1],[4.79,0.3],[4.82,-0.15],[4.85,0.12],[4.88,-0.12],[4.91,0.1],[4.94,-0.12],[4.97,0.12],[5.0,-0.1],[5.03,0.12],[5.06,-0.12],[5.09,0.1],[5.12,-0.12],[5.15,0.12],[5.18,-0.1],[5.21,0.12],[5.24,-0.12],[5.27,0.15],[5.3,-0.12],[5.33,0.12],[5.36,-0.1],[5.39,0.12],[5.42,-0.12],[5.45,0.1],[5.48,-0.12],[5.51,0.15],[5.54,-0.1],[5.57,0.12],[5.6,-0.12],[5.63,0.1],[5.66,-0.12],[5.69,0.12],[5.72,-0.1],[5.75,0.12],[5.78,-0.12],[5.81,0.1],[5.84,-0.12],[5.87,0.12],[5.9,-0.1],[5.93,0.12],[5.96,-0.12],[5.99,0.1],[6.02,0.15],[6.05,0.2],[6.08,-0.1],[6.11,0.12],[6.14,-0.12],[6.17,0.15],[6.19,0.3],[6.21,-0.1],[6.24,0.12],[6.27,-0.12],[6.3,0.1],[6.33,-0.12],[6.36,0.12],[6.39,-0.1],[6.42,0.12],[6.45,-0.12],[6.48,0.1],[6.51,-0.12],[6.54,0.12],[6.57,-0.1],[6.6,0.12],[6.63,-0.12],[6.67,0.05]];
const dyRedTicks = [0.925,1.331,1.358,1.452,1.52,1.708,1.802,1.84,2.024,2.141,2.281,2.318,2.394,2.458,2.525,3.06,3.139,3.222,3.26,3.316,3.365,3.41];
const dyRedBands = [[2.627,2.733],[2.751,2.846],[2.895,2.959],[3.478,4.107],[4.164,4.409],[4.465,4.691],[4.729,5.237],[5.275,5.426],[5.463,6.33],[6.367,6.537],[6.575,7.0]];
const dyBlackTicks = [2.42,2.638,2.751,3.58,4.183,4.635,4.834,4.944,5.011,5.275,5.512,5.802,6.247,6.394,6.529,6.736,6.921];

// ---------------- (e) Ho ----------------
const hoObs = [[0.56,0.95],[0.58,0.75],[0.6,0.9],[0.62,0.68],[0.64,0.85],[0.66,0.6],[0.68,0.8],[0.7,0.55],[0.72,0.75],[0.74,0.5],[0.76,0.7],[0.78,0.45],[0.8,0.65],[0.82,0.42],[0.84,0.62],[0.86,0.5],[0.875,1.0],[0.879,1.6],[0.881,2.1],[0.883,2.6],[0.884,3.0],[0.885,3.4],[0.886,3.8],[0.887,4.1],[0.888,4.58],[0.891,3.2],[0.894,2.3],[0.897,1.5],[0.9,0.9],[0.915,0.55],[0.935,0.3],[0.955,0.52],[0.975,0.25],[0.995,0.5],[1.015,0.22],[1.035,0.5],[1.055,0.2],[1.075,0.48],[1.095,0.2],[1.115,0.47],[1.135,0.18],[1.155,0.45],[1.175,0.18],[1.195,0.45],[1.215,0.16],[1.235,0.44],[1.255,0.16],[1.275,0.44],[1.295,0.6],[1.315,0.2],[1.335,0.42],[1.355,0.14],[1.375,0.42],[1.395,0.13],[1.415,0.4],[1.435,0.14],[1.455,0.4],[1.475,0.12],[1.495,0.4],[1.515,0.12],[1.535,0.38],[1.555,0.1],[1.575,0.38],[1.595,0.1],[1.615,0.36],[1.635,0.1],[1.655,0.36],[1.675,0.1],[1.695,0.36],[1.715,0.08],[1.735,0.35],[1.755,0.08],[1.775,0.35],[1.795,0.4],
[1.805,0.9],[1.81,1.3],[1.814,1.45],[1.817,1.6],[1.822,1.2],[1.83,0.6],[1.845,0.35],[1.865,0.1],[1.885,0.36],[1.905,0.1],[1.925,0.36],[1.945,0.12],[1.965,0.4],[1.985,0.2],[2.005,0.45],[2.02,0.8],[2.03,1.0],[2.04,0.85],[2.055,0.4],[2.075,0.12],[2.095,0.4],[2.115,0.55],[2.135,0.3],[2.155,0.1],[2.175,0.4],[2.195,0.2],[2.215,0.7],[2.228,1.4],[2.238,1.9],[2.245,2.3],[2.25,2.1],[2.26,1.6],[2.27,2.2],[2.278,2.8],[2.284,3.3],[2.29,3.8],[2.295,3.4],[2.3,2.6],[2.31,1.7],[2.32,1.0],[2.335,0.7],[2.35,0.95],[2.36,1.1],[2.37,0.8],[2.385,0.4],[2.405,0.1],[2.425,0.35],[2.445,0.15],[2.465,0.5],[2.48,0.7],[2.495,0.8],[2.51,0.6],[2.525,0.25],[2.545,0.1],[2.565,0.4],[2.585,0.45],
[2.605,0.9],[2.615,1.6],[2.622,2.5],[2.628,3.4],[2.633,4.2],[2.637,4.9],[2.64,5.5],[2.643,6.0],[2.646,6.5],[2.648,6.9],[2.65,7.17],[2.653,6.6],[2.657,5.8],[2.661,4.9],[2.665,4.0],[2.67,3.0],[2.676,2.1],[2.685,1.4],[2.695,1.1],[2.71,1.2],[2.72,1.6],[2.73,2.0],[2.737,2.3],[2.745,2.0],[2.755,1.3],[2.77,0.6],[2.785,0.3],[2.805,0.1],[2.825,0.35],[2.845,0.15],[2.865,0.5],[2.88,0.8],[2.895,1.0],[2.91,0.9],[2.925,0.5],[2.945,0.2],[2.965,0.3],[2.985,0.02],
[3.005,0.3],[3.025,0.02],[3.045,0.3],[3.065,0.02],[3.085,0.3],[3.105,0.02],[3.125,0.3],[3.145,0.02],[3.165,0.3],[3.185,0.02],[3.205,0.32],[3.225,0.05],[3.245,0.32],[3.265,0.05],[3.285,0.35],[3.305,0.1],[3.325,0.4],[3.345,0.12],[3.365,0.32],[3.385,0.03],[3.405,0.3],[3.425,0.03],[3.445,0.3],[3.465,0.05],[3.485,0.35],[3.505,0.15],[3.52,0.5],[3.535,0.7],[3.55,0.74],[3.565,0.65],[3.58,0.4],[3.6,0.1],[3.62,0.35],[3.64,0.05],[3.66,0.32],[3.68,0.05],[3.7,0.35],[3.72,0.4],[3.74,0.05],[3.76,0.3],[3.78,0.0],[3.8,0.3],[3.82,0.0],[3.84,0.3],[3.86,0.05],[3.88,0.35],[3.9,0.7],[3.912,1.2],[3.92,1.6],[3.927,1.9],[3.933,2.0],[3.94,1.8],[3.948,1.3],[3.958,0.8],[3.97,0.4],[3.99,0.3],
[4.01,0.6],[4.025,0.85],[4.04,1.0],[4.055,0.8],[4.07,0.4],[4.09,0.05],[4.11,0.3],[4.13,0.0],[4.15,0.3],[4.17,0.02],[4.19,0.3],[4.21,0.05],[4.23,0.32],[4.25,0.1],[4.27,0.35],[4.29,0.2],[4.31,0.5],[4.325,0.7],[4.34,0.77],[4.355,0.65],[4.37,0.35],[4.39,0.05],[4.41,0.3],[4.43,0.0],[4.45,0.3],[4.47,0.02],[4.49,0.3],[4.51,0.05],[4.53,0.35],[4.55,0.45],[4.565,0.62],[4.577,0.67],[4.59,0.55],[4.61,0.2],[4.63,0.3],[4.65,0.05],[4.67,0.3],[4.69,0.2],[4.71,0.45],[4.73,0.6],[4.745,0.7],[4.76,0.65],[4.775,0.7],[4.79,0.6],[4.805,0.5],[4.82,0.25],[4.84,0.35],[4.86,0.0],[4.88,0.3],[4.9,0.0],[4.92,0.28],[4.94,-0.02],[4.96,0.28],[4.98,-0.02],
[5.0,0.28],[5.02,-0.03],[5.04,0.27],[5.06,-0.03],[5.08,0.27],[5.1,-0.03],[5.12,0.27],[5.14,-0.03],[5.16,0.27],[5.18,-0.03],[5.2,0.27],[5.22,-0.03],[5.24,0.27],[5.26,0.0],[5.28,0.3],[5.3,0.3],[5.32,0.38],[5.34,0.1],[5.36,0.27],[5.38,-0.03],[5.4,0.26],[5.42,-0.04],[5.44,0.26],[5.46,-0.04],[5.48,0.26],[5.5,-0.04],[5.52,0.26],[5.54,0.05],[5.56,0.33],[5.58,0.3],[5.6,0.05],[5.62,0.25],[5.64,-0.05],[5.66,0.25],[5.68,-0.05],[5.7,0.25],[5.72,-0.05],[5.74,0.25],[5.76,-0.05],[5.78,0.25],[5.8,-0.05],[5.82,0.25],[5.84,-0.05],[5.86,0.25],[5.88,-0.04],[5.9,0.26],[5.92,-0.03],[5.94,0.28],[5.96,0.0],[5.98,0.3],
[6.0,0.2],[6.02,0.45],[6.035,0.55],[6.05,0.5],[6.065,0.35],[6.085,0.1],[6.105,0.35],[6.125,0.15],[6.145,0.4],[6.16,0.55],[6.175,0.7],[6.19,0.77],[6.205,0.65],[6.22,0.35],[6.24,0.05],[6.26,0.3],[6.28,0.0],[6.3,0.28],[6.32,-0.02],[6.34,0.28],[6.36,-0.02],[6.38,0.28],[6.4,-0.02],[6.42,0.28],[6.44,0.0],[6.46,0.3],[6.48,0.05],[6.5,0.32],[6.52,0.2],[6.54,0.35],[6.56,0.05],[6.58,0.3],[6.6,0.0],[6.62,0.26],[6.64,-0.03],[6.66,0.2],[6.68,0.1]];
const hoCalc = [[0.56,0.82],[0.62,0.72],[0.68,0.64],[0.73,0.6],[0.79,0.54],[0.84,0.5],[0.87,0.55],[0.878,1.5],[0.888,4.24],[0.897,1.3],[0.91,0.45],[0.95,0.4],[1.05,0.37],[1.15,0.34],[1.28,0.32],[1.295,0.45],[1.31,0.32],[1.45,0.3],[1.6,0.27],[1.75,0.25],[1.80,0.5],[1.814,1.26],[1.828,0.45],[1.85,0.25],[2.0,0.3],[2.03,0.67],[2.05,0.3],[2.1,0.25],[2.12,0.4],[2.14,0.24],[2.2,0.35],[2.23,1.2],[2.245,2.23],[2.26,1.2],[2.275,2.0],[2.29,3.65],[2.305,1.5],[2.33,0.6],[2.36,0.75],[2.38,0.35],[2.43,0.2],[2.46,0.35],[2.49,0.55],[2.52,0.3],[2.6,0.35],[2.625,2.0],[2.65,7.0],[2.67,2.0],[2.69,0.8],[2.71,0.9],[2.737,2.0],[2.755,0.9],[2.78,0.3],[2.82,0.2],[2.87,0.4],[2.9,0.83],[2.93,0.35],[2.98,0.18],[3.1,0.17],[3.2,0.18],[3.33,0.25],[3.4,0.17],[3.5,0.2],[3.554,0.63],[3.6,0.25],[3.72,0.22],[3.75,0.15],[3.88,0.2],[3.91,0.8],[3.933,1.79],[3.95,0.7],[3.99,0.3],[4.04,0.67],[4.07,0.25],[4.2,0.2],[4.3,0.25],[4.34,0.58],[4.38,0.25],[4.5,0.2],[4.577,0.45],[4.62,0.2],[4.7,0.25],[4.75,0.45],[4.79,0.4],[4.84,0.2],[5.0,0.15],[5.2,0.12],[5.31,0.18],[5.4,0.12],[5.57,0.17],[5.7,0.1],[5.9,0.12],[6.0,0.2],[6.045,0.45],[6.1,0.25],[6.194,0.6],[6.25,0.2],[6.4,0.15],[6.53,0.2],[6.6,0.12],[6.68,0.1]];
const hoDiff = [[0.56,0.0],[0.65,0.02],[0.75,0.05],[0.82,0.15],[0.86,0.4],[0.875,0.57],[0.882,1.0],[0.886,1.46],[0.888,-1.0],[0.892,0.1],[0.9,-0.05],[0.95,0.0],[1.1,-0.03],[1.3,0.03],[1.5,-0.02],[1.7,0.0],[1.80,0.05],[1.812,0.3],[1.82,-0.2],[1.83,0.0],[1.95,-0.02],[2.03,0.2],[2.05,0.0],[2.12,0.1],[2.14,0.0],[2.2,0.05],[2.24,0.4],[2.255,-0.3],[2.27,0.3],[2.285,-0.6],[2.3,0.3],[2.315,-0.1],[2.36,0.2],[2.38,0.0],[2.5,0.05],[2.6,0.0],[2.63,0.3],[2.645,0.86],[2.652,0.4],[2.66,-0.3],[2.68,0.1],[2.72,0.2],[2.735,0.5],[2.75,0.1],[2.8,0.0],[2.9,0.05],[2.95,-0.02],[3.2,0.0],[3.4,-0.02],[3.554,0.1],[3.6,0.0],[3.8,-0.02],[3.933,0.3],[3.95,0.0],[4.04,0.15],[4.08,0.0],[4.34,0.1],[4.4,0.0],[4.6,0.0],[4.79,0.07],[4.85,0.0],[5.2,-0.02],[5.5,0.0],[5.8,-0.02],[6.0,0.0],[6.19,0.12],[6.25,0.0],[6.5,0.0],[6.68,0.0]];
const hoBrownTicks = [0.888,1.294,1.316,1.342,1.427,1.491,1.677,1.77,1.8,1.985,2.112,2.253,2.29,2.32,2.372,2.439,2.495,3.015,3.09,3.182,3.227,3.275,3.331];
const hoBrownBands = [[2.606,2.773],[2.81,2.903],[3.461,3.703],[3.721,4.093],[4.149,4.391],[4.446,4.651],[4.688,5.208],[5.246,5.432],[5.469,6.324],[6.361,6.547],[6.584,6.91]];
const hoBlackTicks = [2.39,2.625,2.729,3.561,4.167,4.632,4.811,4.937,4.993,5.283,5.495,5.815,6.249,6.387,6.521,6.751];
const hoBlueTicks = [1.268,1.554,2.022,2.216,2.561,2.718,2.866,3.015,3.152,3.275,3.398,3.636,3.759,3.833,3.926,4.075,4.167,4.279,4.465,4.576,4.662,4.744,4.911,4.997,5.171,5.246,5.339,5.413,5.495,5.562,5.629,5.777,5.84,5.915,5.989,6.063,6.138,6.212,6.335,6.398,6.454,6.51,6.577,6.64,6.714,6.844];
const hoPurpleTicks = [1.156,1.427,1.647,2.022,2.197,2.346,2.487,2.625,2.755,2.877,2.996,3.22,3.331,3.435,3.535,3.628,3.721,3.814,3.907,4.0,4.082,4.167,4.26,4.342,4.42,4.643,4.725,4.8,4.874,4.948,5.023,5.09,5.153,5.227,5.294,5.357,5.42,5.487,5.55,5.61,5.729,5.792,5.859,5.915,5.978,6.045,6.101,6.157,6.212,6.324,6.38,6.435,6.484,6.536,6.64,6.696,6.807,6.855];

// ---------------- (f) Er ----------------
const erObs = [[0.562,0.85],[0.58,0.62],[0.6,0.8],[0.62,0.55],[0.64,0.75],[0.66,0.5],[0.68,0.7],[0.7,0.45],[0.72,0.65],[0.74,0.4],[0.76,0.6],[0.78,0.35],[0.8,0.55],[0.82,0.3],[0.84,0.5],[0.86,0.3],[0.878,0.7],[0.884,1.3],[0.887,1.8],[0.889,2.2],[0.891,2.6],[0.893,2.9],[0.895,3.15],[0.897,3.36],[0.9,2.7],[0.903,2.0],[0.906,1.3],[0.91,0.7],[0.925,0.45],[0.945,0.2],[0.965,0.45],[0.985,0.15],[1.005,0.45],[1.025,0.15],[1.045,0.42],[1.065,0.12],[1.085,0.42],[1.105,0.12],[1.125,0.4],[1.145,0.1],[1.165,0.4],[1.185,0.1],[1.205,0.4],[1.225,0.1],[1.245,0.38],[1.265,0.1],[1.285,0.45],[1.30,0.75],[1.315,0.6],[1.335,0.4],[1.355,0.1],[1.375,0.36],[1.395,0.1],[1.415,0.4],[1.43,0.55],[1.45,0.1],[1.47,0.36],[1.49,0.4],[1.51,0.35],[1.53,0.05],[1.55,0.33],[1.57,0.05],[1.59,0.33],[1.61,0.05],[1.63,0.33],[1.65,0.05],[1.67,0.35],[1.69,0.45],[1.71,0.1],[1.73,0.32],[1.75,0.03],[1.77,0.32],[1.79,0.1],
[1.805,0.6],[1.81,1.1],[1.814,1.5],[1.817,1.77],[1.822,1.3],[1.83,0.6],[1.845,0.3],[1.865,0.02],[1.885,0.3],[1.905,0.02],[1.925,0.3],[1.945,0.02],[1.965,0.3],[1.985,0.05],[2.005,0.35],[2.02,0.7],[2.03,0.95],[2.038,1.08],[2.048,0.8],[2.06,0.35],[2.08,0.05],[2.1,0.35],[2.115,0.7],[2.125,0.85],[2.14,0.5],[2.16,0.05],[2.18,0.3],[2.2,0.05],[2.22,0.5],[2.235,1.2],[2.245,1.9],[2.252,2.3],[2.258,2.5],[2.265,2.1],[2.275,1.6],[2.285,2.2],[2.295,3.0],[2.303,3.6],[2.309,4.0],[2.314,4.13],[2.32,3.7],[2.328,2.8],[2.338,1.7],[2.35,1.0],[2.36,1.0],[2.37,1.1],[2.38,0.8],[2.395,0.35],[2.415,0.05],[2.435,0.35],[2.455,0.05],[2.475,0.4],[2.49,0.6],[2.505,0.85],[2.515,0.8],[2.53,0.4],[2.55,0.05],[2.57,0.3],[2.59,0.15],
[2.605,0.6],[2.615,1.3],[2.622,2.2],[2.628,3.2],[2.633,4.1],[2.637,4.9],[2.64,5.6],[2.643,6.2],[2.646,6.6],[2.648,6.74],[2.652,6.3],[2.656,5.3],[2.66,4.3],[2.665,3.2],[2.67,2.2],[2.677,1.3],[2.685,0.8],[2.7,0.5],[2.715,0.9],[2.727,1.4],[2.735,1.75],[2.742,1.9],[2.75,1.6],[2.76,1.0],[2.775,0.4],[2.795,0.05],[2.815,0.3],[2.835,0.05],[2.855,0.3],[2.875,0.6],[2.89,1.0],[2.902,1.25],[2.912,1.3],[2.925,1.0],[2.94,0.5],[2.96,0.15],[2.98,0.3],
[3.0,0.1],[3.02,0.4],[3.04,0.15],[3.06,0.2],[3.08,-0.05],[3.1,0.22],[3.12,-0.05],[3.14,0.22],[3.16,-0.05],[3.18,0.22],[3.2,-0.05],[3.22,0.22],[3.24,-0.05],[3.26,0.22],[3.28,-0.05],[3.3,0.22],[3.32,-0.03],[3.34,0.25],[3.36,0.0],[3.38,0.25],[3.4,0.05],[3.42,0.3],[3.44,0.35],[3.46,0.1],[3.48,0.25],[3.5,0.0],[3.52,0.3],[3.54,0.45],[3.555,0.65],[3.57,0.77],[3.585,0.6],[3.6,0.3],[3.62,0.0],[3.64,0.22],[3.66,-0.05],[3.68,0.22],[3.7,-0.04],[3.72,0.25],[3.735,0.45],[3.75,0.62],[3.765,0.5],[3.78,0.15],[3.8,-0.05],[3.82,0.22],[3.84,-0.04],[3.86,0.24],[3.88,0.0],[3.9,0.4],[3.915,1.0],[3.925,1.6],[3.932,2.0],[3.938,2.28],[3.945,2.0],[3.953,1.4],[3.962,0.8],[3.975,0.35],[3.995,0.15],
[4.015,0.4],[4.03,0.55],[4.044,0.6],[4.06,0.45],[4.08,0.15],[4.1,-0.03],[4.12,0.22],[4.14,-0.05],[4.16,0.22],[4.18,-0.04],[4.2,0.24],[4.22,0.0],[4.24,0.28],[4.26,0.1],[4.28,0.32],[4.3,0.2],[4.32,0.6],[4.335,0.85],[4.348,0.97],[4.36,0.85],[4.375,0.4],[4.395,0.05],[4.415,0.25],[4.435,-0.04],[4.455,0.24],[4.475,0.0],[4.495,0.26],[4.515,0.05],[4.535,0.3],[4.555,0.35],[4.575,0.6],[4.59,0.67],[4.605,0.5],[4.625,0.2],[4.645,0.3],[4.665,0.15],[4.685,0.45],[4.7,0.55],[4.715,0.7],[4.73,0.8],[4.745,0.85],[4.756,0.9],[4.77,0.75],[4.785,0.65],[4.8,0.6],[4.815,0.55],[4.83,0.45],[4.85,0.25],[4.87,0.3],[4.89,0.0],[4.91,0.22],[4.93,-0.05],[4.95,0.2],[4.97,-0.05],[4.99,0.2],
[5.01,-0.05],[5.03,0.2],[5.05,-0.05],[5.07,0.2],[5.09,-0.05],[5.11,0.2],[5.13,-0.05],[5.15,0.2],[5.17,-0.05],[5.19,0.2],[5.21,-0.04],[5.23,0.22],[5.25,-0.04],[5.27,0.22],[5.29,-0.05],[5.31,0.2],[5.33,-0.05],[5.35,0.2],[5.37,-0.05],[5.39,0.2],[5.41,-0.05],[5.43,0.2],[5.45,-0.05],[5.47,0.2],[5.49,-0.03],[5.51,0.22],[5.53,0.0],[5.55,0.28],[5.57,0.32],[5.59,0.1],[5.61,0.2],[5.63,-0.05],[5.65,0.2],[5.67,-0.05],[5.69,0.2],[5.71,-0.05],[5.73,0.2],[5.75,-0.05],[5.77,0.2],[5.79,-0.05],[5.81,0.2],[5.83,-0.05],[5.85,0.2],[5.87,-0.05],[5.89,0.2],[5.91,-0.04],[5.93,0.22],[5.95,0.0],[5.97,0.25],[5.99,0.1],
[6.01,0.3],[6.03,0.35],[6.045,0.45],[6.06,0.42],[6.08,0.2],[6.1,0.05],[6.12,0.25],[6.14,0.1],[6.16,0.4],[6.175,0.7],[6.19,0.82],[6.205,0.7],[6.22,0.35],[6.24,0.0],[6.26,0.22],[6.28,-0.04],[6.3,0.22],[6.32,-0.04],[6.34,0.22],[6.36,-0.04],[6.38,0.22],[6.4,-0.04],[6.42,0.22],[6.44,-0.03],[6.46,0.22],[6.48,0.0],[6.5,0.25],[6.52,0.05],[6.54,0.28],[6.56,0.1],[6.58,0.22],[6.6,-0.03],[6.62,0.22],[6.64,-0.03],[6.66,0.2],[6.69,0.1]];
const erCalc = [[0.562,0.74],[0.62,0.64],[0.68,0.56],[0.73,0.5],[0.8,0.42],[0.86,0.36],[0.885,0.45],[0.896,4.55],[0.906,0.6],[0.92,0.32],[1.0,0.3],[1.15,0.27],[1.28,0.25],[1.30,0.7],[1.32,0.45],[1.34,0.25],[1.42,0.24],[1.43,0.45],[1.44,0.22],[1.50,0.3],[1.52,0.2],[1.67,0.2],[1.69,0.35],[1.71,0.2],[1.80,0.25],[1.816,1.93],[1.83,0.3],[1.85,0.18],[2.02,0.3],[2.036,0.83],[2.05,0.3],[2.11,0.25],[2.12,0.6],[2.135,0.2],[2.22,0.3],[2.245,1.5],[2.258,2.32],[2.27,1.0],[2.29,1.8],[2.314,3.84],[2.33,1.2],[2.355,0.5],[2.37,0.9],[2.385,0.3],[2.435,0.2],[2.45,0.2],[2.49,0.5],[2.51,0.72],[2.53,0.3],[2.57,0.12],[2.6,0.3],[2.625,2.5],[2.645,6.96],[2.665,1.5],[2.69,0.4],[2.72,0.9],[2.74,1.79],[2.755,0.8],[2.78,0.2],[2.81,0.15],[2.88,0.4],[2.912,1.19],[2.935,0.4],[2.97,0.2],[3.02,0.22],[3.05,0.08],[3.2,0.07],[3.35,0.1],[3.44,0.25],[3.47,0.08],[3.54,0.2],[3.57,0.5],[3.6,0.15],[3.65,0.06],[3.73,0.1],[3.754,0.32],[3.78,0.06],[3.9,0.15],[3.94,1.83],[3.965,0.3],[4.0,0.15],[4.044,0.6],[4.07,0.15],[4.18,0.08],[4.25,0.15],[4.32,0.2],[4.348,0.67],[4.38,0.15],[4.5,0.1],[4.56,0.25],[4.59,0.52],[4.62,0.15],[4.7,0.3],[4.756,0.7],[4.79,0.35],[4.83,0.25],[4.88,0.08],[5.0,0.06],[5.2,0.07],[5.4,0.05],[5.57,0.12],[5.6,0.05],[5.8,0.05],[6.0,0.1],[6.056,0.3],[6.1,0.1],[6.15,0.15],[6.19,0.55],[6.22,0.12],[6.4,0.06],[6.55,0.08],[6.69,0.08]];
const erDiff = [[0.562,0.0],[0.7,0.02],[0.85,0.05],[0.885,0.3],[0.893,0.63],[0.897,-0.96],[0.902,-0.2],[0.92,-0.1],[1.0,-0.08],[1.2,-0.05],[1.3,0.05],[1.5,-0.05],[1.7,-0.05],[1.8,-0.05],[1.812,-0.3],[1.817,-0.74],[1.825,-0.2],[1.84,0.0],[2.0,0.0],[2.036,0.2],[2.05,0.0],[2.12,0.1],[2.2,0.0],[2.245,0.3],[2.258,0.5],[2.27,-0.1],[2.29,0.3],[2.3,-0.4],[2.314,0.3],[2.33,-0.2],[2.36,0.0],[2.37,-0.1],[2.4,0.0],[2.5,-0.1],[2.51,-0.25],[2.53,0.0],[2.6,0.0],[2.63,0.3],[2.64,0.89],[2.645,-0.9],[2.655,0.2],[2.67,0.0],[2.72,0.1],[2.735,0.2],[2.745,-0.25],[2.76,0.0],[2.9,0.1],[2.91,0.15],[2.93,0.0],[3.1,0.0],[3.3,0.02],[3.5,0.0],[3.57,0.15],[3.6,0.0],[3.754,0.12],[3.78,0.0],[3.9,0.05],[3.935,0.6],[3.945,-0.05],[3.96,0.1],[4.0,0.0],[4.1,0.0],[4.348,0.2],[4.38,0.0],[4.5,0.0],[4.59,0.05],[4.756,0.1],[4.8,0.0],[5.0,0.0],[5.3,0.02],[5.6,0.0],[5.9,0.0],[6.19,0.2],[6.22,0.0],[6.5,0.0],[6.69,0.0]];
const erOrangeTicks = [0.896,1.304,1.33,1.427,1.501,1.687,1.78,1.813,1.999,2.121,2.258,2.295,2.362,2.436,2.492,2.826,3.023,3.123,3.198,3.235,3.279,3.32,3.372];
const erOrangeBands = [[2.615,2.771],[2.875,2.927],[3.468,4.144],[4.162,4.404],[4.459,4.664],[4.701,5.22],[5.265,5.425],[5.462,6.148],[6.186,6.538],[6.586,6.88]];
const erBlackTicks = [2.392,2.622,2.734,3.569,4.162,4.634,4.812,4.931,4.979,5.25,5.491,5.814,6.241,6.378,6.512,6.742];
const erBlueTicks = [1.267,1.564,2.021,2.214,2.566,2.726,2.875,3.012,3.149,3.283,3.402,3.636,3.754,3.866,3.977,4.088,4.188,4.285,4.478,4.571,4.664,4.738,4.923,4.998,5.183,5.258,5.343,5.425,5.499,5.573,5.647,5.777,5.851,5.926,6.0,6.074,6.148,6.223,6.353,6.408,6.471,6.538,6.601,6.668,6.724];
const erPurpleTicks = [1.167,1.434,1.664,2.036,2.206,2.355,2.503,2.641,2.77,2.9,3.019,3.242,3.346,3.45,3.55,3.643,3.717,3.81,3.903,3.995,4.088,4.181,4.274,4.367,4.675,4.749,4.823,4.897,4.972,5.046,5.117,5.183,5.25,5.313,5.376,5.443,5.506,5.77,5.833,5.896,5.963,6.03,6.093,6.159,6.223,6.39,6.445,6.501,6.557,6.612,6.724,6.835];

// ---------------- layout & styles ----------------
const FONT = '"Liberation Sans", Arial, Helvetica, sans-serif';
const BLUE = '#0a0aff', PURPLE = '#9b3a9b';
const panels = [
  {grid:{left:96, top:7, width:575, height:269}, x:[0.48,6.91], y:[-5,12], yTicks:ndYTicks,
   obs:ndObs, calc:ndCalc, diff:ndDiff, diffY:-3.78, obsColor:'#f2287f', calcColor:'#000', calcW:2.4, obsBW:1.2, fillW:1.2,
   rows:[{t:ndPinkTicks,b:ndPinkBands,y:-0.5,c:'#ff158a'},{t:ndBlackTicks,b:[],y:-1.27,c:'#111'},{t:ndBlueTicks,b:[],y:-1.74,c:BLUE},{t:ndTealTicks,b:ndTealBands,y:-2.28,c:'#108a86'},{t:ndMagentaTicks,b:[],y:-2.78,c:'#ff19ff'}]},
  {grid:{left:716, top:7, width:573, height:269}, x:[0.5,6.28], y:[-5,17], yTicks:gdYTicks,
   obs:gdObs, calc:gdCalc, diff:gdDiff, diffY:-3.83, obsColor:'#8a8a10', calcColor:'#000', calcW:2.4, obsBW:1.3, fillW:1.2,
   rows:[{t:gdOliveTicks,b:gdOliveBands,y:-0.48,c:'#8a8a00'},{t:gdBlackTicks,b:[],y:-1.71,c:'#111'}]},
  {grid:{left:96, top:319, width:575, height:269}, x:[0.49,7.0], y:[-5,12], yTicks:tbYTicks,
   obs:tbObs, calc:tbCalc, diff:tbDiff, diffY:-3.75, obsColor:'#1a8a1a', calcColor:'#000', calcW:2.4, obsBW:1.1, fillW:1.0,
   rows:[{t:tbGreenTicks,b:tbGreenBands,y:-0.98,c:'#0a8a0a'},{t:tbBlackTicks,b:[],y:-1.95,c:'#111'}]},
  {grid:{left:716, top:319, width:574, height:269}, x:[0.5,7.0], y:[-5,10], yTicks:dyYTicks,
   obs:dyObs, calc:dyCalc, diff:dyDiff, diffY:-3.92, obsColor:'#ff2020', calcColor:'#000', calcW:2.4, obsBW:1.1, fillW:1.0,
   rows:[{t:dyRedTicks,b:dyRedBands,y:-1.0,c:'#ff1010'},{t:dyBlackTicks,b:[],y:-2.0,c:'#111'}]},
  {grid:{left:96, top:631, width:575, height:268}, x:[0.5,6.91], y:[-4,8], yTicks:hoYTicks,
   obs:hoObs, calc:hoCalc, diff:hoDiff, diffY:-2.95, obsColor:'#94470f', calcColor:'#c4c4c4', calcW:3, obsBW:2, fillW:2,
   rows:[{t:hoBrownTicks,b:hoBrownBands,y:-0.48,c:'#8b4513'},{t:hoBlackTicks,b:[],y:-1.0,c:'#111'},{t:hoBlueTicks,b:[],y:-1.5,c:BLUE},{t:hoPurpleTicks,b:[],y:-1.97,c:PURPLE}]},
  {grid:{left:716, top:631, width:573, height:268}, x:[0.5,6.88], y:[-4,8], yTicks:erYTicks,
   obs:erObs, calc:erCalc, diff:erDiff, diffY:-3.0, obsColor:'#ff8a1c', calcColor:'#000', calcW:2.4, obsBW:1.7, fillW:1.6,
   rows:[{t:erOrangeTicks,b:erOrangeBands,y:-0.5,c:'#ff8000'},{t:erBlackTicks,b:[],y:-1.02,c:'#111'},{t:erBlueTicks,b:[],y:-1.5,c:BLUE},{t:erPurpleTicks,b:[],y:-2.0,c:PURPLE}]}
];

const TICK_W = 1.8, TICK_H = 8;
const grids = [], xAxes = [], yAxes = [], series = [], graphics = [];

panels.forEach((p, i) => {
  grids.push(Object.assign({show:true, borderColor:'#000', borderWidth:2, backgroundColor:'transparent', containLabel:false}, p.grid));
  const tickStyle = {inside:true, length:9, lineStyle:{color:'#000', width:2}};
  const noLine = {show:false, onZero:false};
  xAxes.push({type:'value', gridIndex:i, min:p.x[0], max:p.x[1], position:'bottom',
    axisLine:noLine, splitLine:{show:false},
    axisTick:Object.assign({customValues:xTickValues}, tickStyle),
    axisLabel:{customValues:xTickValues, fontSize:22, color:'#000', fontFamily:FONT, margin:12}});
  xAxes.push({type:'value', gridIndex:i, min:p.x[0], max:p.x[1], position:'top',
    axisLine:noLine, splitLine:{show:false},
    axisTick:Object.assign({customValues:xTickValues}, tickStyle), axisLabel:{show:false}});
  yAxes.push({type:'value', gridIndex:i, min:p.y[0], max:p.y[1], position:'left',
    axisLine:noLine, splitLine:{show:false},
    axisTick:Object.assign({customValues:p.yTicks}, tickStyle),
    axisLabel:{customValues:p.yTicks, fontSize:22, color:'#000', fontFamily:FONT, margin:8}});
  yAxes.push({type:'value', gridIndex:i, min:p.y[0], max:p.y[1], position:'right',
    axisLine:noLine, splitLine:{show:false},
    axisTick:Object.assign({customValues:p.yTicks}, tickStyle), axisLabel:{show:false}});

  const xi = i * 2, yi = i * 2;
  p.rows.forEach(r => {
    const data = r.t.map(q => [q, q]).concat(r.b.map(b => [b[0], b[1]]));
    series.push({type:'custom', xAxisIndex:xi, yAxisIndex:yi, clip:true, silent:true, z:2,
      data, encode:{x:[0,1]},
      renderItem:(params, api) => {
        const p0 = api.coord([api.value(0), r.y]);
        const p1 = api.coord([api.value(1), r.y]);
        return {type:'rect', shape:{x:p0[0] - TICK_W/2, y:p0[1] - TICK_H/2, width:Math.max(p1[0]-p0[0],0) + TICK_W, height:TICK_H},
          style:{fill:r.c}};
      }});
  });
  // dense observed trace (joins the observed points, filling the band of overlapping circles)
  series.push({type:'line', xAxisIndex:xi, yAxisIndex:yi, data:p.obs, showSymbol:false, z:3, silent:true,
    lineStyle:{color:p.obsColor, width:p.fillW, opacity:0.85}});
  series.push({type:'scatter', xAxisIndex:xi, yAxisIndex:yi, data:p.obs, symbol:'circle', symbolSize:8, z:3, silent:true,
    itemStyle:{color:'rgba(0,0,0,0)', borderColor:p.obsColor, borderWidth:p.obsBW}});
  series.push({type:'line', xAxisIndex:xi, yAxisIndex:yi, data:p.calc, showSymbol:false, z:4, silent:true,
    lineStyle:{color:p.calcColor, width:p.calcW}});
  series.push({type:'line', xAxisIndex:xi, yAxisIndex:yi, data:p.diff.map(d => [d[0], d[1] + p.diffY]), showSymbol:false, z:4, silent:true,
    lineStyle:{color:BLUE, width:1.1}});

  graphics.push({type:'text', left:p.grid.left + (i % 2 === 0 ? 450 : 446), top:p.grid.top + 20,
    style:{text:panelLabels[i], font:'30px ' + FONT, fill:'#000'}});
});

graphics.push({type:'text', x:30, y:462, rotation:Math.PI/2,
  style:{text:'X-ray count (arb. units)', font:'44px ' + FONT, fill:'#000', align:'center', verticalAlign:'middle'}});
graphics.push({type:'text', x:739, y:972,
  style:{text:'{a|Scattering vector, }{q|Q}{a| (Å}{s|−1}{a|)}', align:'center', verticalAlign:'middle',
    rich:{a:{fontSize:44, fontFamily:FONT, fill:'#000', lineHeight:52},
          q:{fontSize:44, fontFamily:FONT, fontStyle:'italic', fill:'#000', lineHeight:52},
          s:{fontSize:28, fontFamily:FONT, fill:'#000', verticalAlign:'top', lineHeight:52, padding:[0,0,22,0]}}}});

const chart = echarts.init(document.getElementById('chart'), null, {renderer:'canvas'});
chart.setOption({animation:false, backgroundColor:'#fff', grid:grids, xAxis:xAxes, yAxis:yAxes, series, graphic:{elements:graphics}});
</script>
</body>
</html>
